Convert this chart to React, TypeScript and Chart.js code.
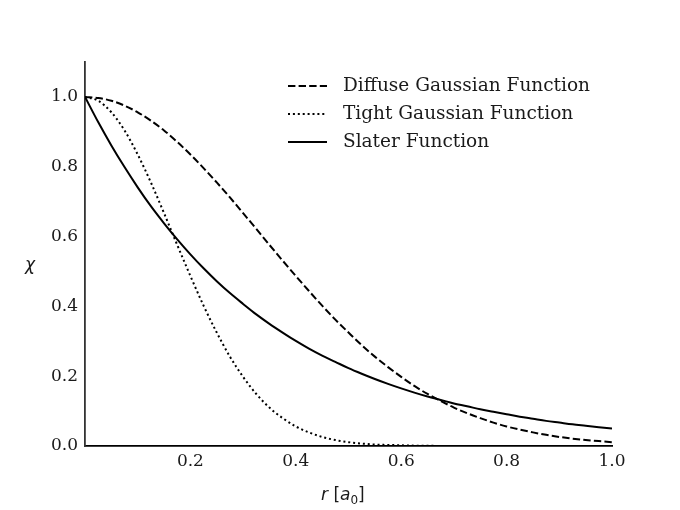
import React, { useEffect, useRef } from "react";
import { Chart, registerables } from "chart.js";

Chart.register(...registerables);

const rValues = [0, 0.025, 0.05, 0.075, 0.1, 0.125, 0.15, 0.175, 0.2, 0.225, 0.25, 0.275, 0.3, 0.325, 0.35, 0.375, 0.4, 0.425, 0.45, 0.475, 0.5, 0.525, 0.55, 0.575, 0.6, 0.625, 0.65, 0.675, 0.7, 0.725, 0.75, 0.775, 0.8, 0.825, 0.85, 0.875, 0.9, 0.925, 0.95, 0.975, 1.0];

const diffuseGaussian = [1.0, 0.997, 0.989, 0.975, 0.956, 0.932, 0.904, 0.871, 0.835, 0.796, 0.755, 0.712, 0.667, 0.622, 0.576, 0.531, 0.487, 0.444, 0.402, 0.362, 0.325, 0.289, 0.256, 0.226, 0.198, 0.172, 0.149, 0.129, 0.11, 0.094, 0.08, 0.067, 0.056, 0.047, 0.039, 0.032, 0.026, 0.021, 0.017, 0.014, 0.011];

const tightGaussian = [1.0, 0.989, 0.956, 0.904, 0.835, 0.755, 0.667, 0.576, 0.487, 0.402, 0.325, 0.256, 0.198, 0.149, 0.11, 0.08, 0.056, 0.039, 0.026, 0.017, 0.011, 0.007, 0.004, 0.003, 0.002, 0.001, 0.0005, 0.0003, 0.0001, 0, 0, 0, 0, 0, 0, 0, 0, 0, 0, 0, 0];

const slater = [1.0, 0.928, 0.861, 0.799, 0.741, 0.687, 0.638, 0.592, 0.549, 0.509, 0.472, 0.438, 0.407, 0.377, 0.35, 0.325, 0.301, 0.279, 0.259, 0.241, 0.223, 0.207, 0.192, 0.178, 0.165, 0.153, 0.142, 0.132, 0.122, 0.114, 0.105, 0.098, 0.091, 0.084, 0.078, 0.072, 0.067, 0.062, 0.058, 0.054, 0.05];

const seriesLabels = ["Diffuse Gaussian Function", "Tight Gaussian Function", "Slater Function"];
const xTicks = [0.2, 0.4, 0.6, 0.8, 1.0];
const yTicks = [0.0, 0.2, 0.4, 0.6, 0.8, 1.0];

const SERIF = "'DejaVu Serif'";
const SANS = "'DejaVu Sans'";

const toPoints = (ys: number[]) => rValues.map((x, i) => ({ x, y: ys[i] }));

const legendPlugin = {
  id: "customLegend",
  afterDraw(chart: any) {
    const ctx = chart.ctx;
    const x0 = 288;
    const lineLen = 39;
    const textX = 343;
    const y0 = 86;
    const step = 28;
    ctx.save();
    chart.data.datasets.forEach((ds: any, i: number) => {
      const y = y0 + i * step;
      ctx.beginPath();
      ctx.setLineDash(ds.borderDash || []);
      ctx.lineWidth = ds.borderWidth;
      ctx.strokeStyle = ds.borderColor;
      ctx.moveTo(x0, y);
      ctx.lineTo(x0 + lineLen, y);
      ctx.stroke();
      ctx.setLineDash([]);
      ctx.fillStyle = "#1a1a1a";
      ctx.font = `18.5px ${SERIF}`;
      ctx.textBaseline = "middle";
      ctx.textAlign = "left";
      ctx.fillText(ds.label, textX, y);
    });
    ctx.restore();
  },
};

const titlesPlugin = {
  id: "axisTitles",
  afterDraw(chart: any) {
    const ctx = chart.ctx;
    ctx.save();
    ctx.fillStyle = "#1a1a1a";
    ctx.textBaseline = "alphabetic";
    ctx.textAlign = "left";
    ctx.font = `italic 17px ${SANS}`;
    ctx.fillText("χ", 25, 270);
    let x = 321;
    const y = 500;
    const parts: [string, string][] = [
      ["r", `italic 17px ${SANS}`],
      [" [", `17px ${SANS}`],
      ["a", `italic 17px ${SANS}`],
    ];
    parts.forEach(([t, f]) => {
      ctx.font = f;
      ctx.fillText(t, x, y);
      x += ctx.measureText(t).width;
    });
    ctx.font = `12px ${SANS}`;
    ctx.fillText("0", x, y + 4);
    x += ctx.measureText("0").width;
    ctx.font = `17px ${SANS}`;
    ctx.fillText("]", x, y);
    ctx.restore();
  },
};

export default function App() {
  const ref = useRef<HTMLCanvasElement>(null);
  useEffect(() => {
    document.body.style.margin = "0";
    const canvas = ref.current!;
    const chart = new Chart(canvas, {
      type: "line",
      data: {
        datasets: [
          { label: seriesLabels[0], data: toPoints(diffuseGaussian), borderColor: "#000", borderWidth: 2, borderDash: [7.4, 3.2], pointRadius: 0, cubicInterpolationMode: "monotone", fill: false },
          { label: seriesLabels[1], data: toPoints(tightGaussian), borderColor: "#000", borderWidth: 2, borderDash: [2, 2.9], pointRadius: 0, cubicInterpolationMode: "monotone", fill: false },
          { label: seriesLabels[2], data: toPoints(slater), borderColor: "#000", borderWidth: 2, pointRadius: 0, cubicInterpolationMode: "monotone", fill: false },
        ],
      },
      options: {
        animation: false,
        responsive: false,
        maintainAspectRatio: false,
        layout: { padding: { left: 0, top: 62, right: 68, bottom: 0 } },
        plugins: { legend: { display: false }, tooltip: { enabled: false } },
        scales: {
          x: {
            type: "linear",
            min: 0,
            max: 1.0,
            afterBuildTicks: (s: any) => { s.ticks = xTicks.map((v) => ({ value: v })); },
            afterFit: (s: any) => { s.height = 64; },
            grid: { display: false, drawTicks: false },
            border: { color: "#000", width: 1.8 },
            ticks: { color: "#1a1a1a", font: { family: SERIF, size: 17 }, padding: 5, maxRotation: 0, callback: (v: any) => Number(v).toFixed(1) },
          },
          y: {
            type: "linear",
            min: 0,
            max: 1.1,
            afterBuildTicks: (s: any) => { s.ticks = yTicks.map((v) => ({ value: v })); },
            afterFit: (s: any) => { s.width = 85; },
            grid: { display: false, drawTicks: false },
            border: { color: "#333", width: 1.8 },
            ticks: { color: "#1a1a1a", font: { family: SERIF, size: 17 }, padding: 7, callback: (v: any) => Number(v).toFixed(1) },
          },
        },
      } as any,
      plugins: [legendPlugin, titlesPlugin],
    });
    let alive = true;
    const fonts = (document as any).fonts;
    if (fonts && fonts.load) {
      Promise.all([
        fonts.load(`17px ${SERIF}`),
        fonts.load(`italic 17px ${SANS}`),
        fonts.load(`17px ${SANS}`),
      ]).then(() => { if (alive) chart.update(); }).catch(() => {});
    }
    return () => { alive = false; chart.destroy(); };
  }, []);
  return <canvas ref={ref} width={680} height={510} style={{ display: "block", width: 680, height: 510 }} />;
}
